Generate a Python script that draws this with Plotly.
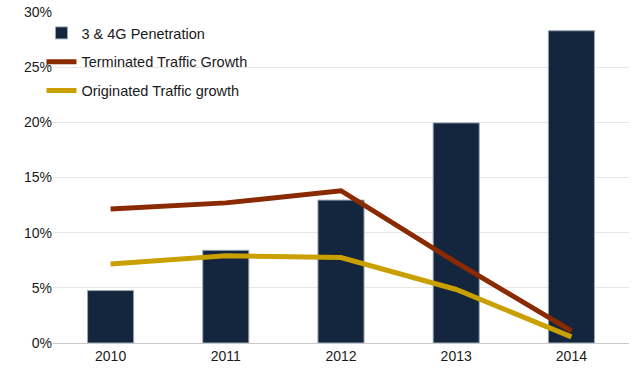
import plotly.graph_objects as go

years = ["2010", "2011", "2012", "2013", "2014"]
penetration = [4.75, 8.4, 12.95, 19.95, 28.3]
terminated = [12.15, 12.7, 13.8, 7.3, 1.1]
originated = [7.15, 7.9, 7.75, 4.85, 0.55]
yticks = [0, 5, 10, 15, 20, 25, 30]
yticklabels = [f"{v}%" for v in yticks]

fig = go.Figure()
fig.add_trace(go.Bar(
    x=years, y=penetration, name="3 & 4G Penetration",
    marker=dict(color="#14263d", line=dict(color="#9aa6b4", width=1)),
    width=0.4, legendgroup="a",
))
fig.add_trace(go.Scatter(
    x=years, y=terminated, name="Terminated Traffic Growth", mode="lines",
    line=dict(color="#8a2a00", width=5), legendgroup="b",
))
fig.add_trace(go.Scatter(
    x=years, y=originated, name="Originated Traffic growth", mode="lines",
    line=dict(color="#c9a000", width=5), legendgroup="c",
))

fig.update_layout(
    width=640, height=372,
    margin=dict(l=53, r=11, t=12, b=29, autoexpand=False),
    paper_bgcolor="white", plot_bgcolor="white",
    font=dict(family="Liberation Sans, Arial, sans-serif", size=14, color="#1a1a1a"),
    showlegend=True,
    legend=dict(
        x=-0.02, y=0.985, xanchor="left", yanchor="top",
        bgcolor="rgba(0,0,0,0)", font=dict(size=14.5, color="#1a1a1a"),
        tracegroupgap=7, itemwidth=30,
    ),
    bargap=0.6,
    xaxis=dict(
        showgrid=False, showline=True, linecolor="#c8c8c8", linewidth=1,
        ticks="", tickfont=dict(size=14), fixedrange=True,
    ),
    yaxis=dict(
        range=[0, 30], tickvals=yticks, ticktext=yticklabels,
        showgrid=True, gridcolor="#e6e6e6", gridwidth=1,
        zeroline=False, showline=False, ticks="",
        tickfont=dict(size=14), fixedrange=True,
    ),
)

fig.write_html(
    "out.html",
    config={"displayModeBar": False},
    post_script="document.body.style.margin='0';",
)
